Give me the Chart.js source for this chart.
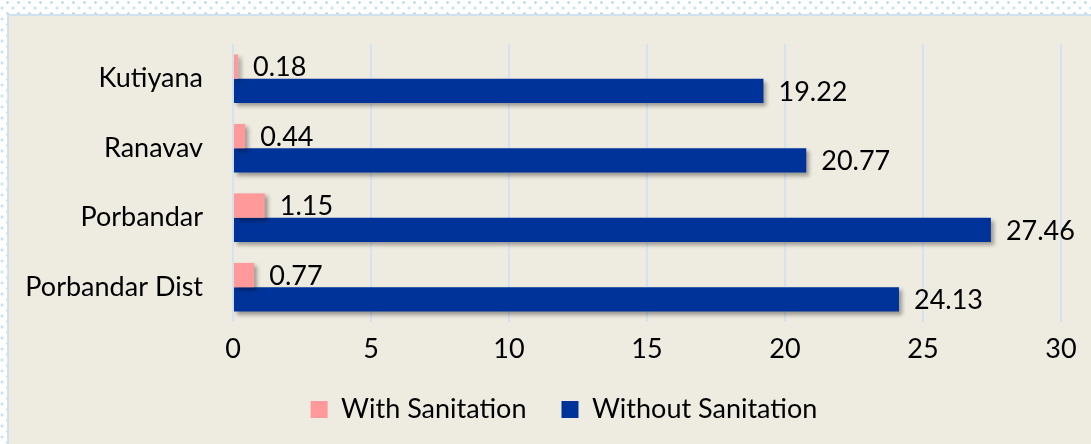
<!DOCTYPE html>
<html>
<head>
<meta charset="utf-8">
<script src="https://cdn.jsdelivr.net/npm/chart.js@4.4.1/dist/chart.umd.min.js"></script>
<style>
  html, body {
    margin: 0;
    padding: 0;
    width: 1091px;
    height: 444px;
    overflow: hidden;
    background-color: #ffffff;
    background-image:
      radial-gradient(circle, #bcdcea 1px, transparent 1.6px),
      radial-gradient(circle, #bcdcea 1px, transparent 1.6px);
    background-size: 11px 11px, 11px 11px;
    background-position: 2px -3px, 7.5px 2.5px;
  }
  .frame {
    position: absolute;
    left: 7px;
    top: 14px;
    width: 1084px;
    height: 430px;
    border-left: 2px solid #d2e1f0;
    border-top: 2px solid #d2e1f0;
    background: #eeebe0;
  }
  .chart-box {
    position: absolute;
    left: 0;
    top: 0;
    width: 1082px;
    height: 428px;
  }
</style>
</head>
<body>
<div class="frame">
  <div class="chart-box">
    <canvas id="sanitationChart"></canvas>
  </div>
</div>
<script>
const categories = ['Kutiyana', 'Ranavav', 'Porbandar', 'Porbandar Dist'];
const withSanitation = [0.18, 0.44, 1.15, 0.77];
const withoutSanitation = [19.22, 20.77, 27.46, 24.13];
const xTicks = [0, 5, 10, 15, 20, 25, 30];

const fontFamily = 'Lato, "Liberation Sans", sans-serif';
const fontSize = 27;

// drop shadow under bars + value labels at the bar ends
const barExtras = {
  id: 'barExtras',
  afterLayout(chart) {
    // legend sits a little right of the canvas centre in the original
    chart.legend.left += 29;
    chart.legend.right += 29;
  },
  beforeDatasetsDraw(chart) {
    const ctx = chart.ctx;
    ctx.save();
    ctx.shadowColor = 'rgba(0, 0, 0, 0.35)';
    ctx.shadowBlur = 4;
    ctx.shadowOffsetX = 3;
    ctx.shadowOffsetY = 3;
  },
  afterDatasetsDraw(chart) {
    const ctx = chart.ctx;
    ctx.restore();
    ctx.save();
    ctx.font = fontSize + 'px ' + fontFamily;
    ctx.fillStyle = '#000000';
    ctx.textAlign = 'left';
    ctx.textBaseline = 'middle';
    chart.data.datasets.forEach((ds, i) => {
      const meta = chart.getDatasetMeta(i);
      meta.data.forEach((bar, j) => {
        ctx.fillText(ds.data[j].toFixed(2), bar.x + 15, bar.y + 1);
      });
    });
    ctx.restore();
  }
};

const ctx = document.getElementById('sanitationChart');
new Chart(ctx, {
  type: 'bar',
  data: {
    labels: categories,
    datasets: [{
      label: 'With Sanitation',
      data: withSanitation,
      backgroundColor: '#ff999a',
      categoryPercentage: 0.7,
      barPercentage: 1.0
    }, {
      label: 'Without Sanitation',
      data: withoutSanitation,
      backgroundColor: '#003399',
      categoryPercentage: 0.7,
      barPercentage: 1.0
    }]
  },
  options: {
    indexAxis: 'y',
    responsive: true,
    maintainAspectRatio: false,
    animation: false,
    layout: {
      padding: { top: 28, right: 30, left: 0, bottom: 11 }
    },
    scales: {
      x: {
        min: 0,
        max: 30,
        afterBuildTicks: (scale) => {
          scale.ticks = xTicks.map(v => ({ value: v }));
        },
        afterFit: (scale) => {
          scale.height = 39;
        },
        grid: {
          color: '#d6e2f0',
          lineWidth: 2,
          drawTicks: false
        },
        border: { display: false },
        ticks: {
          color: '#000000',
          padding: 11,
          font: { family: fontFamily, size: fontSize }
        }
      },
      y: {
        afterFit: (scale) => {
          scale.width = 224;
          scale.paddingTop = 0;
          scale.paddingBottom = 0;
        },
        grid: { display: false, drawTicks: false },
        border: { display: false },
        ticks: {
          color: '#000000',
          padding: 30,
          font: { family: fontFamily, size: fontSize }
        }
      }
    },
    plugins: {
      legend: {
        position: 'bottom',
        labels: {
          boxWidth: 17,
          boxHeight: 17,
          padding: 35,
          color: '#000000',
          font: { family: fontFamily, size: fontSize }
        }
      },
      tooltip: { enabled: false }
    }
  },
  plugins: [barExtras]
});
</script>
</body>
</html>
